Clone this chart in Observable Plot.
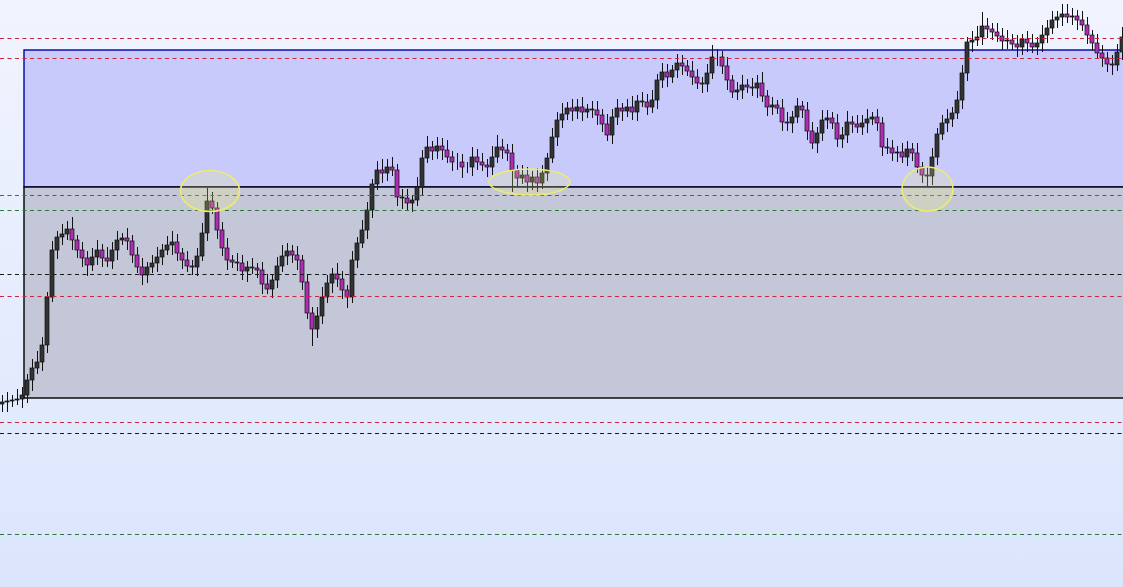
<!DOCTYPE html>
<html><head><meta charset="utf-8">
<script src="https://cdn.jsdelivr.net/npm/d3@7"></script>
<script src="https://cdn.jsdelivr.net/npm/@observablehq/plot@0.6"></script>
<style>
html,body{margin:0;padding:0;overflow:hidden;width:1123px;height:587px;background:linear-gradient(#f1f4fe,#dbe5fc);}
#chart svg{display:block;}
</style>
</head><body><div id="chart"></div>
<script>
// Price units (higher = up). Bar index t = 0..224.
const firstOpen = 183;
const closes = [
185,186,187,188,192,207,219,225,242,290,
337,350,353,358,347,337,329,322,330,337,
329,326,337,347,349,346,332,320,312,320,
324,330,337,342,345,334,327,321,320,331,
354,386,379,357,339,327,325,324,316,320,
319,317,303,298,307,321,331,336,332,327,
305,274,258,271,290,304,313,308,297,290,
327,344,357,377,403,417,414,420,417,390,
389,384,387,400,429,440,436,441,437,430,
425,425,420,420,430,425,422,420,430,440,
437,434,417,409,412,405,410,404,414,429,
450,467,473,479,476,480,475,478,477,472,
463,452,470,479,476,480,475,486,485,480,
487,507,515,510,517,524,521,516,510,504,
503,514,530,530,521,507,495,497,502,500,
499,504,491,480,482,479,465,464,470,481,
477,456,444,454,467,469,464,448,452,465,
463,460,464,468,470,464,440,439,434,435,
430,438,434,420,412,411,430,453,464,468,
474,487,514,545,547,550,561,558,555,551,
546,547,543,540,548,544,540,544,552,559,
567,570,573,570,571,567,562,552,544,534,
529,523,522,535,550];
const upWick = [
7,9,5,10,8,6,9,11,8,5, 9,6,10,8,12,5,8,7,9,10, 6,11,8,9,5,10,6,8,9,5, 8,10,6,9,11,8,5,9,6,8,
10,13,9,6,8,10,5,9,8,6, 9,5,8,10,6,9,11,8,6,9, 5,8,6,9,10,8,6,11,8,5, 9,6,10,8,5,9,11,8,10,6,
8,9,5,10,8,11,6,9,8,10, 6,9,8,5,10,8,9,6,11,12, 8,6,9,5,10,8,6,9,8,5, 9,8,11,6,9,8,10,5,8,9,
6,10,8,9,5,8,11,6,9,8, 10,6,9,8,5,9,8,6,10,8, 6,9,12,8,6,9,5,8,10,6, 9,8,11,6,8,5,9,10,6,8,
5,8,9,6,10,8,6,9,8,11, 6,9,8,10,5,8,6,9,8,6, 9,8,6,10,5,8,9,6,8,10, 6,9,8,5,9,11,14,8,6,9,
8,10,6,9,5,8,9,6,10,8, 9,6,10,10,8,6,9,8,5,9, 8,6,9,8,10];
const dnWick = [
8,10,6,5,9,8,11,6,9,8, 5,9,8,6,10,8,9,11,6,8, 9,6,8,10,5,9,8,6,10,8, 6,9,8,5,10,8,9,6,8,9,
5,8,6,9,8,10,6,8,9,11, 6,8,10,5,9,8,6,9,8,10, 8,6,17,9,8,6,10,8,9,11, 6,8,5,9,8,6,10,8,6,9,
11,8,9,6,8,5,9,8,10,6, 9,8,11,6,9,8,6,10,8,6, 9,8,22,9,6,10,8,9,6,8, 5,9,8,6,10,8,9,6,8,10,
8,6,9,8,10,6,8,9,5,8, 6,9,8,10,6,8,9,5,8,6, 9,8,6,9,8,10,6,8,9,6, 8,10,6,9,8,6,9,8,10,6,
8,9,6,10,8,9,6,8,9,8, 9,6,8,10,6,8,9,6,8,9, 6,9,8,6,8,11,9,8,6,9, 8,6,9,8,10,6,8,9,8,6,
9,8,6,10,8,9,6,8,9,8, 6,8,9,6,8,10,6,9,8,6, 9,8,10,6,8];

// Horizontal levels
const redLevels = [549, 529, 392, 291, 165];
const greenLevels = [377, 53];
const blackLevels = [313, 154];

// Zones (boxes): start bar, lower / upper price
const zoneStart = 4.4;
const zoneLow = [400, 189];
const zoneHigh = [537, 400];

// Highlight ellipses: bar range and price range
const ellT0 = [35.7, 97.4, 180.0];
const ellT1 = [47.5, 113.6, 190.2];
const ellLow = [375.5, 392, 376];
const ellHigh = [416.5, 418, 420];

const candles = closes.map((c, i) => {
  const open = i ? closes[i - 1] : firstOpen;
  return {t: i, open, close: c,
    high: Math.max(open, c) + upWick[i],
    low: Math.min(open, c) - dnWick[i]};
});
const ellipses = ellT0.map((t0, i) => ({t0, t1: ellT1[i], low: ellLow[i], high: ellHigh[i]}));
const upperZone = [{start: zoneStart, end: 240, low: zoneLow[0], high: zoneHigh[0]}];
const lowerZone = [{start: zoneStart, end: 240, low: zoneLow[1], high: zoneHigh[1]}];

const chart = Plot.plot({
  width: 1123, height: 587, margin: 0,
  style: {background: "transparent", overflow: "hidden"},
  x: {domain: [-0.4, 224.2], axis: null},
  y: {domain: [0, 587], axis: null},
  color: {type: "identity"},
  marks: [
    Plot.rect(upperZone, {x1: "start", x2: "end", y1: "low", y2: "high", fill: "#c7cafb", stroke: "#0000a0", strokeWidth: 1.4, clip: true}),
    Plot.rect(lowerZone, {x1: "start", x2: "end", y1: "low", y2: "high", fill: "#c3c7d7", stroke: "#000", strokeWidth: 1.4, clip: true}),
    Plot.ruleX(candles, {x: "t", y1: "low", y2: "high", stroke: "#111", strokeWidth: 1}),
    Plot.rect(candles, {x1: d => d.t - 0.4, x2: d => d.t + 0.4, y1: "open", y2: "close",
      fill: d => d.close >= d.open ? "#333333" : "#b02cb4", stroke: "#111", strokeWidth: 0.7}),
    Plot.ruleY(redLevels, {stroke: "#c8283c", strokeWidth: 1, strokeDasharray: "4,3.5"}),
    Plot.ruleY(greenLevels, {stroke: "#2a7a3c", strokeWidth: 1, strokeDasharray: "4,3.5"}),
    Plot.ruleY(blackLevels, {stroke: "#1a1a1a", strokeWidth: 1, strokeDasharray: "4,3.5"}),
    Plot.rect(ellipses, {x1: "t0", x2: "t1", y1: "low", y2: "high", fill: "#f2f27a", fillOpacity: 0.22,
      stroke: "#ecec70", strokeWidth: 1.6})
  ]
});
d3.select(chart).selectAll("g").filter(function () { return this.getAttribute("fill") === "#f2f27a"; })
  .selectAll("rect").each(function () {
    const w = +this.getAttribute("width"), h = +this.getAttribute("height");
    this.setAttribute("rx", w / 2);
    this.setAttribute("ry", h / 2);
  });
document.getElementById("chart").appendChild(chart);
</script>
</body></html>
